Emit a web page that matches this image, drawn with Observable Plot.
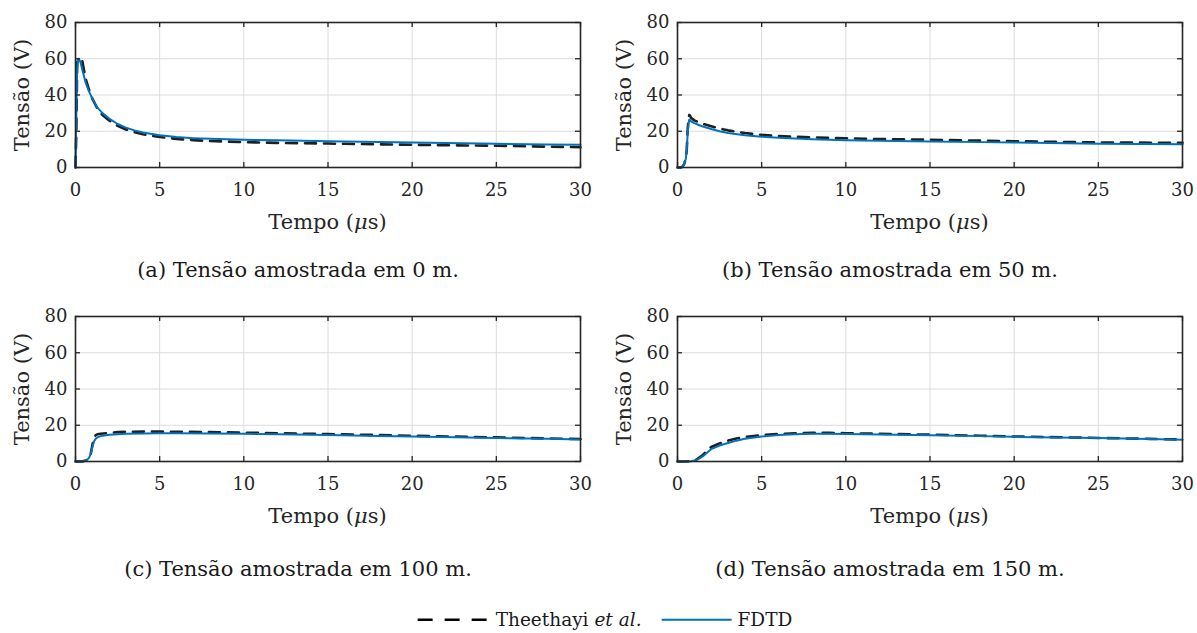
<!DOCTYPE html>
<html>
<head>
<meta charset="utf-8">
<script src="https://cdn.jsdelivr.net/npm/d3@7"></script>
<script src="https://cdn.jsdelivr.net/npm/@observablehq/plot@0.6"></script>
<style>
  html, body { margin: 0; padding: 0; background: #fff; }
  #fig { position: relative; width: 1197px; height: 633px; background: #fff; font-family: "DejaVu Serif", serif; color: #262626; overflow: hidden; }
  .abs { position: absolute; white-space: nowrap; line-height: 1; }
  .c { transform: translate(-50%, -50%); }
  .rot { transform: translate(-50%, -50%) rotate(-90deg); }
  .lab { font-size: 21px; color: #262626; }
  .cap { font-size: 21px; color: #1a1a1a; }
  .leg { font-size: 18.5px; color: #1a1a1a; display: flex; align-items: center; }
</style>
</head>
<body>
<div id="fig"></div>
<script>
// ---- tick labels ----
const xTicks = [0, 5, 10, 15, 20, 25, 30];
const yTicks = [0, 20, 40, 60, 80];

// ---- panel (a): 0 m ----
const tA_fdtd = [0, 0.05, 0.1, 0.15, 0.2, 0.3, 0.4, 0.6, 0.8, 1.0, 1.3, 1.6, 2.0, 2.5, 3.0, 3.5, 4.0, 5.0, 6.0, 7.0, 8.0, 10, 12, 15, 18, 20, 22, 25, 28, 30];
const vA_fdtd = [0, 30, 55, 60, 60, 58, 54, 47, 42, 38, 33, 30, 27, 24, 22, 20.5, 19.3, 17.8, 16.8, 16.2, 15.8, 15.3, 15, 14.5, 14.1, 13.8, 13.5, 13.1, 12.7, 12.5];
const tA_thee = [0, 0.05, 0.1, 0.2, 0.3, 0.4, 0.5, 0.6, 0.8, 1.0, 1.3, 1.6, 2.0, 2.5, 3.0, 3.5, 4.0, 5.0, 6.0, 7.0, 8.0, 10, 12, 15, 18, 20, 22, 25, 28, 30];
const vA_thee = [0, 20, 58, 60, 60, 59, 54, 49, 43, 38, 32.5, 29, 26, 23, 21, 19.5, 18.3, 16.8, 15.8, 15.1, 14.6, 14, 13.6, 13.2, 12.8, 12.5, 12.3, 12, 11.5, 11.2];

// ---- panel (b): 50 m ----
const tB = [0, 0.2, 0.3, 0.4, 0.5, 0.55, 0.6, 0.65, 0.7, 0.75, 0.8, 1.0, 1.3, 1.6, 2.0, 2.5, 3.0, 4.0, 5.0, 6.0, 8.0, 10, 12, 15, 18, 20, 25, 30];
const vB_fdtd = [0, 0, 0.5, 2, 5, 10, 18, 24, 26.5, 26, 25.5, 24.5, 23.3, 22.3, 21.2, 20, 19, 17.8, 17, 16.4, 15.6, 15.1, 14.8, 14.4, 14, 13.8, 13.1, 12.8];
const vB_thee = [0, 0, 0.5, 2, 5, 10, 20, 27, 29, 28.5, 27.5, 26, 24.8, 23.8, 22.8, 21.5, 20.5, 19, 18, 17.3, 16.6, 16.1, 15.7, 15.3, 14.8, 14.5, 13.8, 13.6];

// ---- panel (c): 100 m ----
const tC = [0, 0.3, 0.5, 0.7, 0.8, 0.9, 1.0, 1.1, 1.2, 1.3, 1.5, 2.0, 2.5, 3, 4, 5, 6, 8, 10, 12, 15, 18, 20, 25, 28, 30];
const vC_fdtd = [0, 0, 0.2, 1, 2, 4, 8, 11, 12.5, 13.3, 14, 14.7, 15.1, 15.3, 15.5, 15.6, 15.6, 15.5, 15.3, 15, 14.6, 14.1, 13.8, 13, 12.5, 12.2];
const vC_thee = [0, 0, 0.2, 1, 2, 4, 9, 13, 14.5, 15, 15.3, 15.8, 16.2, 16.4, 16.5, 16.5, 16.4, 16.2, 15.9, 15.6, 15.1, 14.6, 14.2, 13.3, 12.7, 12.4];

// ---- panel (d): 150 m ----
const tD = [0, 0.5, 0.8, 1.0, 1.2, 1.5, 1.8, 2.0, 2.5, 3.0, 3.5, 4.0, 5.0, 6.0, 7.0, 8.0, 9, 10, 12, 15, 18, 20, 25, 28, 30];
const vD_fdtd = [0, 0, 0.2, 0.5, 1.2, 2.8, 5.2, 6.8, 8.8, 10.2, 11.5, 12.5, 13.8, 14.6, 15.1, 15.3, 15.3, 15.2, 14.9, 14.5, 14, 13.6, 12.9, 12.4, 12];
const vD_thee = [0, 0, 0.2, 0.5, 1.5, 3.5, 6.5, 8, 10, 11.5, 12.7, 13.5, 14.6, 15.2, 15.6, 15.8, 15.8, 15.6, 15.3, 14.8, 14.2, 13.8, 13, 12.5, 12.1];

const captions = [
  "(a) Tensão amostrada em 0 m.",
  "(b) Tensão amostrada em 50 m.",
  "(c) Tensão amostrada em 100 m.",
  "(d) Tensão amostrada em 150 m."
];
const seriesNames = ["Theethayi", "FDTD"];

const zip = (t, v) => t.map((x, i) => ({t: x, v: v[i]}));

const panels = [
  {fdtd: zip(tA_fdtd, vA_fdtd), thee: zip(tA_thee, vA_thee), left: 0, top: 0, mr: 20},
  {fdtd: zip(tB, vB_fdtd), thee: zip(tB, vB_thee), left: 602, top: 0, mr: 15},
  {fdtd: zip(tC, vC_fdtd), thee: zip(tC, vC_thee), left: 0, top: 294, mr: 20},
  {fdtd: zip(tD, vD_fdtd), thee: zip(tD, vD_thee), left: 602, top: 294, mr: 15}
];

const fig = document.getElementById("fig");
const BLUE = "#0072BD";
const DARK = "#262626";
const FONT = "'DejaVu Serif', serif";

function addDiv(cls, html, x, y) {
  const d = document.createElement("div");
  d.className = "abs " + cls;
  d.innerHTML = html;
  d.style.left = x + "px";
  d.style.top = y + "px";
  fig.appendChild(d);
  return d;
}

panels.forEach((p, i) => {
  const ml = 75, mt = 22, plotW = 505, plotH = 145, mb = 70;
  const chart = Plot.plot({
    width: ml + plotW + p.mr,
    height: mt + plotH + mb,
    marginLeft: ml, marginRight: p.mr, marginTop: mt, marginBottom: mb,
    style: {fontFamily: FONT, fontSize: "18px", color: DARK, background: "transparent", overflow: "visible"},
    x: {domain: [0, 30]},
    y: {domain: [0, 80]},
    marks: [
      Plot.gridX(xTicks, {stroke: "#dcdcdc", strokeOpacity: 1, strokeWidth: 1}),
      Plot.gridY(yTicks, {stroke: "#dcdcdc", strokeOpacity: 1, strokeWidth: 1}),
      Plot.line(p.thee, {x: "t", y: "v", stroke: "#1f1f1f", strokeWidth: 2.6, strokeDasharray: "11,8"}),
      Plot.line(p.fdtd, {x: "t", y: "v", stroke: BLUE, strokeWidth: 2}),
      // inward ticks (bottom, top, left, right)
      Plot.ruleX(xTicks, {x: d => d, y1: 0, y2: 0, insetTop: -5, stroke: DARK, strokeWidth: 1.3}),
      Plot.ruleX(xTicks, {x: d => d, y1: 80, y2: 80, insetBottom: -5, stroke: DARK, strokeWidth: 1.3}),
      Plot.ruleY(yTicks, {y: d => d, x1: 0, x2: 0, insetRight: -5, stroke: DARK, strokeWidth: 1.3}),
      Plot.ruleY(yTicks, {y: d => d, x1: 30, x2: 30, insetLeft: -5, stroke: DARK, strokeWidth: 1.3}),
      Plot.frame({stroke: DARK, strokeWidth: 1.6}),
      Plot.axisX(xTicks, {anchor: "bottom", tickSize: 0, tickPadding: 16, label: null, fill: DARK}),
      Plot.axisY(yTicks, {anchor: "left", tickSize: 0, tickPadding: 8, label: null, fill: DARK})
    ]
  });
  chart.style.position = "absolute";
  chart.style.left = p.left + "px";
  chart.style.top = p.top + "px";
  fig.appendChild(chart);

  // axis labels
  addDiv("lab c", "Tempo (<i>μ</i>s)", p.left + ml + plotW / 2, p.top + 222);
  addDiv("lab rot", "Tensão (V)", p.left + 22, p.top + mt + plotH / 2);
  // caption
  const cx = (i % 2 === 0) ? 298 : 890;
  addDiv("cap c", captions[i], cx, p.top + 270 + (i >= 2 ? 5 : 0));
});

// legend
const leg = addDiv("leg c", "", 604, 620);
leg.innerHTML =
  `<svg width="74" height="10" style="margin-right:6px"><line x1="2" y1="5" x2="72" y2="5" stroke="#000" stroke-width="2.6" stroke-dasharray="15,12"/></svg>` +
  `<span>${seriesNames[0]} <i>et al.</i></span>` +
  `<svg width="74" height="10" style="margin-left:18px;margin-right:4px"><line x1="2" y1="5" x2="72" y2="5" stroke="${BLUE}" stroke-width="2.2"/></svg>` +
  `<span>${seriesNames[1]}</span>`;
</script>
</body>
</html>
